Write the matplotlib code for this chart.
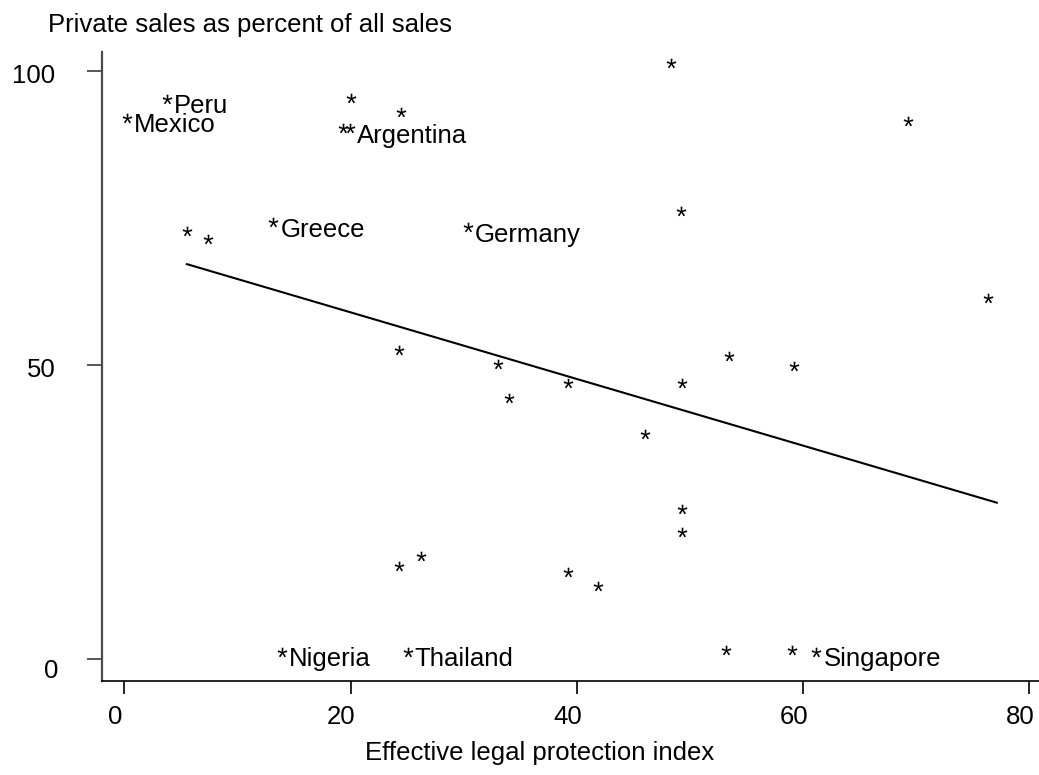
import numpy as np
import matplotlib
matplotlib.use("Agg")
import matplotlib.pyplot as plt
from matplotlib.textpath import TextPath
from matplotlib.font_manager import FontProperties
from matplotlib.path import Path
from matplotlib.transforms import ScaledTranslation

# Country observations: legal protection index vs private sales share
legal_index = [3.75, 0.21, 20.0, 24.5, 19.3, 19.96, 5.52, 7.43, 13.17, 30.37,
               48.36, 69.26, 49.24, 76.39, 24.31, 33.04, 33.99, 39.2, 49.28, 53.49,
               59.24, 46.07, 49.28, 49.28, 24.31, 26.21, 39.2, 41.84, 13.91, 25.05,
               53.17, 59.04, 61.19]
private_sales = [94.1, 90.9, 94.3, 91.8, 89.1, 89.1, 71.6, 70.2, 73.1, 72.3,
                 100.2, 90.3, 75.1, 60.2, 51.3, 49.0, 43.2, 45.7, 45.7, 50.3,
                 48.6, 37.1, 24.3, 20.4, 14.6, 16.3, 13.7, 11.3, 0.1, 0.1,
                 0.4, 0.4, 0.1]
country = ["Peru", "Mexico", "", "", "", "Argentina", "", "", "Greece", "Germany",
           "", "", "", "", "", "", "", "", "", "",
           "", "", "", "", "", "", "", "", "Nigeria", "Thailand",
           "", "", "Singapore"]

# Linear fit of private sales on the index
fit_intercept = 70.34
fit_slope = -0.5666
fit_range = [5.54, 77.14]

x_ticks = [0, 20, 40, 60, 80]
y_ticks = [0, 50, 100]
title_text = "Private sales as percent of all sales"
xlabel_text = "Effective legal protection index"

FONT = "Liberation Sans"
FS = 18.5
plt.rcParams["font.family"] = [FONT, "DejaVu Sans"]

fig = plt.figure(figsize=(10.39, 7.75), dpi=100)
ax = fig.add_axes([101.7 / 1039, 94.3 / 775, 937.3 / 1039, 628.7 / 775])
ax.set_xlim(-2.0, 80.87)
ax.set_ylim(-3.64, 103.28)

for side in ("top", "right"):
    ax.spines[side].set_visible(False)
ax.spines["left"].set_color("#4a4a4a")
ax.spines["left"].set_linewidth(1.6)
ax.spines["bottom"].set_color("black")
ax.spines["bottom"].set_linewidth(1.2)

# Asterisk marker built from the font glyph, centred on the origin
glyph = TextPath((0, 0), "*", size=10, prop=FontProperties(family=FONT))
codes = glyph.codes
verts = glyph.vertices.copy()
real = codes != Path.CLOSEPOLY
mid = (verts[real].min(axis=0) + verts[real].max(axis=0)) / 2
verts = verts - mid
verts[~real] = 0.0
star = Path(verts, codes)

dpi_tr = fig.dpi_scale_trans
star_tr = ax.transData + ScaledTranslation(0, 0.072, dpi_tr)
ax.plot(legal_index, private_sales, linestyle="none", marker=star,
        markersize=7.0, markerfacecolor="black", markeredgewidth=0,
        color="black", transform=star_tr, clip_on=False)

name_tr = ax.transData + ScaledTranslation(0.07, -0.075, dpi_tr)
for xv, yv, name in zip(legal_index, private_sales, country):
    if name:
        ax.text(xv, yv, name, transform=name_tr, ha="left", va="baseline",
                fontsize=FS, color="black", clip_on=False)

# Fitted regression line
fx = np.array(fit_range)
ax.plot(fx, fit_intercept + fit_slope * fx, color="black", linewidth=1.5)

ax.set_xticks(x_ticks)
ax.set_xticklabels([str(v) for v in x_ticks], fontsize=FS)
ax.set_yticks(y_ticks)
ax.set_yticklabels([str(v) for v in y_ticks], fontsize=FS)
ax.tick_params(axis="x", length=9.2, width=1.2, color="black", pad=8.2)
ax.tick_params(axis="y", length=10.8, width=1.3, color="#4a4a4a", pad=22.5)

for lab in ax.get_xticklabels():
    lab.set_transform(lab.get_transform() + ScaledTranslation(-0.09, 0, dpi_tr))
ylab_shift = {"0": (0.03, -0.097), "50": (0, -0.02), "100": (0, -0.027)}
for lab in ax.get_yticklabels():
    dx, dy = ylab_shift.get(lab.get_text(), (0, 0))
    lab.set_transform(lab.get_transform() + ScaledTranslation(dx, dy, dpi_tr))

fig.text(48 / 1039, 1 - 32 / 775, title_text, ha="left", va="baseline",
         fontsize=FS)
fig.text(540 / 1039, 1 - 760 / 775, xlabel_text, ha="center", va="baseline",
         fontsize=FS)

fig.savefig("out.png", dpi=100, facecolor="white")
